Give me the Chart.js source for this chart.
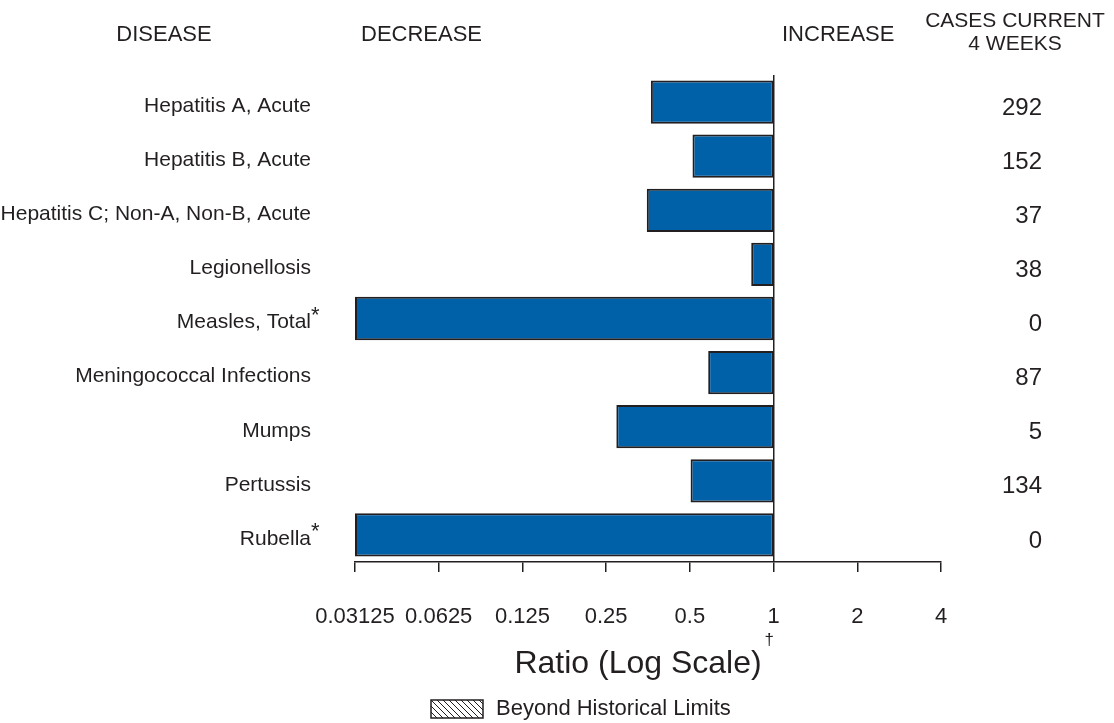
<!DOCTYPE html>
<html><head><meta charset="utf-8">
<script src="https://cdn.jsdelivr.net/npm/chart.js@4/dist/chart.umd.min.js"></script>
<style>html,body{margin:0;padding:0;background:#fff}#wrap{width:1114px;height:723px}</style>
</head><body><div id="wrap"><canvas id="c" width="1114" height="723"></canvas></div>
<script>
const diseases = ['Hepatitis A, Acute','Hepatitis B, Acute','Hepatitis C; Non-A, Non-B, Acute','Legionellosis','Measles, Total','Meningococcal Infections','Mumps','Pertussis','Rubella'];
const ratios = [0.362, 0.511, 0.350, 0.831, 0.03125, 0.582, 0.272, 0.503, 0.03125];
const cases = ['292','152','37','38','0','87','5','134','0'];
const footnoteMarks = ['','','','','*','','','','*'];
const tickValues = [0.03125, 0.0625, 0.125, 0.25, 0.5, 1, 2, 4];
const tickLabels = ['0.03125','0.0625','0.125','0.25','0.5','1','2','4'];
const headers = { disease: 'DISEASE', decrease: 'DECREASE', increase: 'INCREASE', cases1: 'CASES CURRENT', cases2: '4 WEEKS' };
const axisTitle = 'Ratio (Log Scale)';
const legendText = 'Beyond Historical Limits';

const FONT = "'Liberation Sans', Arial, Helvetica, sans-serif";
const INK = '#231f20';
Chart.defaults.font.family = FONT;
Chart.defaults.color = INK;

const extras = {
  id: 'extras',
  afterDraw(chart) {
    const ctx = chart.ctx, ca = chart.chartArea;
    const ys = chart.scales.y;
    ctx.save();
    ctx.fillStyle = INK;
    ctx.textBaseline = 'middle';
    // headers
    ctx.font = '22px ' + FONT;
    ctx.textAlign = 'center';
    ctx.fillText(headers.disease, 164, 35);
    ctx.textAlign = 'left';
    ctx.fillText(headers.decrease, 361, 35);
    ctx.fillText(headers.increase, 782, 35);
    ctx.font = '21px ' + FONT;
    ctx.textAlign = 'center';
    ctx.fillText(headers.cases1, 1015, 21);
    ctx.fillText(headers.cases2, 1015, 44);
    // footnote marks
    ctx.font = '22px ' + FONT;
    ctx.textAlign = 'left';
    footnoteMarks.forEach((m, i) => {
      if (!m) return;
      const y = ys.getPixelForTick(i);
      ctx.fillText(m, 311, y - 3);
    });
    // axis title
    ctx.font = '32px ' + FONT;
    ctx.textAlign = 'center';
    const cx = (ca.left + ca.right) / 2 - 10;
    const ty = ca.bottom + 102;
    ctx.fillText(axisTitle, cx, ty);
    const tw = ctx.measureText(axisTitle).width;
    ctx.font = '17px ' + FONT;
    ctx.textAlign = 'left';
    ctx.fillText('\u2020', cx + tw / 2 + 3, ty - 24);
    // legend
    const bx = 431, by = 700, bw = 52, bh = 18;
    ctx.save();
    ctx.beginPath(); ctx.rect(bx, by, bw, bh); ctx.clip();
    ctx.strokeStyle = INK; ctx.lineWidth = 1;
    for (let x = bx - bh; x < bx + bw + bh; x += 6) {
      ctx.beginPath(); ctx.moveTo(x, by); ctx.lineTo(x + bh, by + bh); ctx.stroke();
    }
    ctx.restore();
    ctx.strokeStyle = INK; ctx.lineWidth = 1.5;
    ctx.strokeRect(bx, by, bw, bh);
    ctx.font = '22px ' + FONT;
    ctx.textAlign = 'left';
    ctx.fillText(legendText, 496, by + bh / 2);
    ctx.restore();
  }
};

new Chart(document.getElementById('c'), {
  type: 'bar',
  data: {
    labels: diseases,
    datasets: [{
      data: ratios.map(r => [r, 1]),
      backgroundColor: '#0060a8',
      borderColor: INK,
      borderWidth: 2,
      borderSkipped: false,
      barPercentage: 0.8,
      categoryPercentage: 1,
      xAxisID: 'x', yAxisID: 'y'
    }]
  },
  options: {
    indexAxis: 'y',
    responsive: false,
    animation: false,
    devicePixelRatio: 1,
    layout: { padding: { top: 75, right: 72, bottom: 0, left: 0 } },
    plugins: { legend: { display: false }, tooltip: { enabled: false } },
    scales: {
      x: {
        type: 'logarithmic', min: 0.03125, max: 4, position: 'bottom',
        afterBuildTicks: s => { s.ticks = tickValues.map(v => ({ value: v })); },
        afterFit: s => { s.height = 161; },
        grid: {
          color: c => (c.tick && c.tick.value === 1) ? INK : 'rgba(0,0,0,0)',
          lineWidth: 1.5, tickLength: 10, tickColor: INK, drawOnChartArea: true, drawTicks: true
        },
        border: { display: true, color: INK, width: 1.5 },
        ticks: { autoSkip: false, maxRotation: 0, minRotation: 0, padding: 32, font: { size: 22 }, color: INK,
          callback: (v, i) => tickLabels[i] }
      },
      y: {
        type: 'category', position: 'left', offset: true,
        afterFit: s => { s.width = 355; },
        grid: { display: false, offset: true }, border: { display: false },
        ticks: { padding: 36, font: { size: 21 }, color: INK, labelOffset: 4, autoSkip: false }
      },
      y2: {
        type: 'category', labels: cases, position: 'right', display: true, offset: true,
        afterFit: s => { s.width = 101; },
        grid: { display: false, offset: true }, border: { display: false },
        ticks: { crossAlign: 'far', padding: 0, font: { size: 24 }, color: INK, labelOffset: 6, autoSkip: false }
      }
    }
  },
  plugins: [extras]
});
</script></body></html>
